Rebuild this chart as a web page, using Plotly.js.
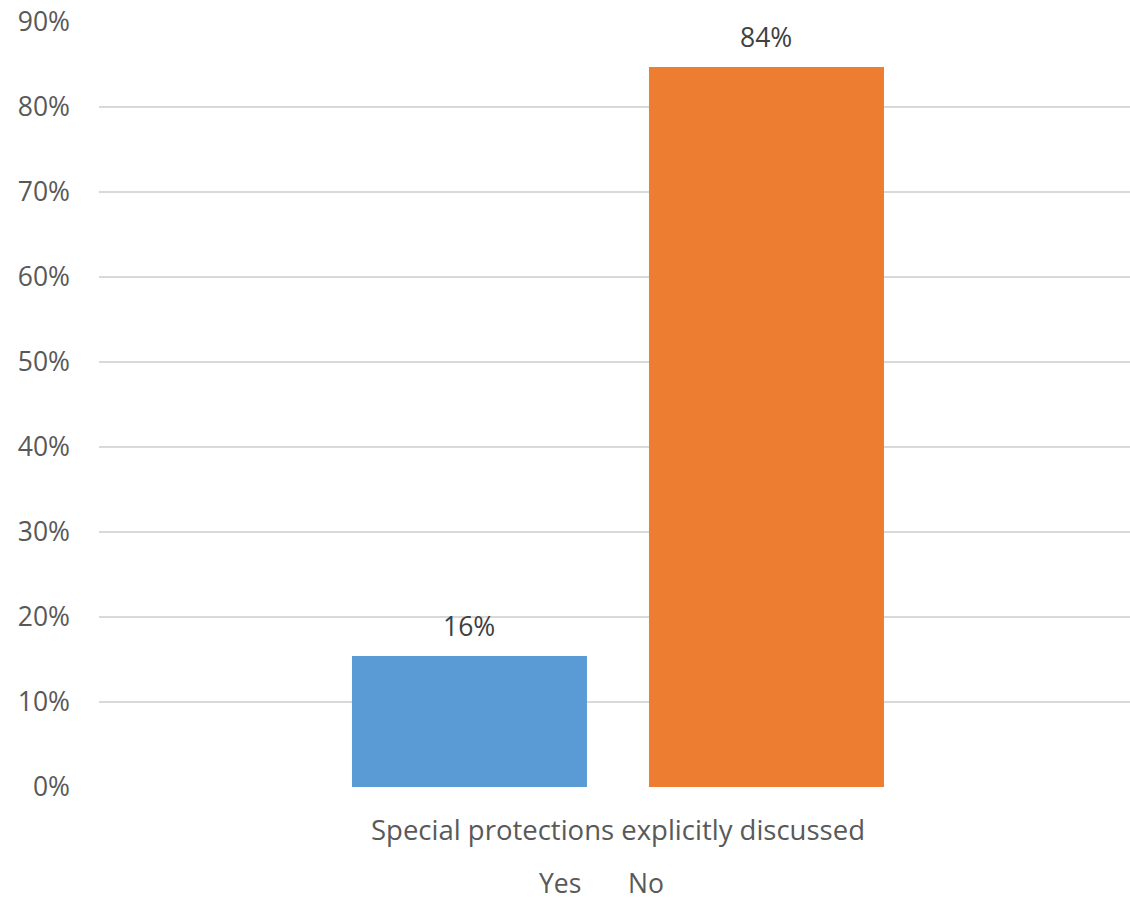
<!DOCTYPE html>
<html>
<head>
<meta charset="utf-8">
<script src="https://cdn.plot.ly/plotly-3.0.1.min.js"></script>
<style>html,body{margin:0;padding:0;background:#fff;}#chart{width:1130px;height:901px;}</style>
</head>
<body>
<div id="chart"></div>
<script>
var category = ["Special protections explicitly discussed"];
var seriesNames = ["Yes", "No"];
var yesValues = [0.154];
var noValues = [0.847];
var yesLabels = ["16%"];
var noLabels = ["84%"];
var yTickVals = [0, 0.1, 0.2, 0.3, 0.4, 0.5, 0.6, 0.7, 0.8, 0.9];
var yTickText = ["0%", "10%", "20%", "30%", "40%", "50%", "60%", "70%", "80%", "90%"];

var FONT = "Open Sans, Liberation Sans, sans-serif";
var W = 1130, H = 901;
var M = {l: 99, r: 0, t: 22, b: 114};
var BARGAP = 0.4277, XRANGE = [-0.5, 0.4933];

var traces = [
  {type: "bar", name: seriesNames[0], x: category, y: yesValues,
   marker: {color: "#5B9BD5"}, hoverinfo: "none"},
  {type: "bar", name: seriesNames[1], x: category, y: noValues,
   marker: {color: "#ED7D31"}, hoverinfo: "none"}
];

// value labels placed above each bar, offset by the group-slot geometry
var plotW = W - M.l - M.r;
var slotPx = plotW / (XRANGE[1] - XRANGE[0]) * (1 - BARGAP) / 2;
var labelSets = [[yesValues, yesLabels, -slotPx / 2], [noValues, noLabels, slotPx / 2]];
var annotations = [];
labelSets.forEach(function (s) {
  s[0].forEach(function (v, i) {
    annotations.push({
      x: category[i], y: v, xref: "x", yref: "y", xshift: s[2], yshift: 10,
      text: s[1][i], showarrow: false, xanchor: "center", yanchor: "bottom",
      font: {family: FONT, size: 26.5, color: "#404040"}
    });
  });
});

// legend text (no swatches in the reference)
var legendY = -(883 - (H - M.b)) / (H - M.t - M.b);
annotations.push({xref: "paper", yref: "paper", x: (560 - M.l) / plotW, y: legendY,
  text: seriesNames[0], showarrow: false, xanchor: "center", yanchor: "middle", borderpad: 0,
  font: {family: FONT, size: 26.5, color: "#595959"}});
annotations.push({xref: "paper", yref: "paper", x: (646 - M.l) / plotW, y: legendY,
  text: seriesNames[1], showarrow: false, xanchor: "center", yanchor: "middle", borderpad: 0,
  font: {family: FONT, size: 26.5, color: "#595959"}});

var layout = {
  width: W, height: H,
  margin: M,
  paper_bgcolor: "#ffffff", plot_bgcolor: "#ffffff",
  showlegend: false,
  barmode: "group",
  bargap: BARGAP,
  bargroupgap: 0.2088,
  font: {family: FONT, size: 26.5, color: "#595959"},
  xaxis: {
    type: "category", range: XRANGE,
    showgrid: false, zeroline: false, showline: false, ticks: "",
    ticklabelstandoff: 24,
    tickfont: {family: FONT, size: 27.5, color: "#595959"},
    fixedrange: true
  },
  yaxis: {
    range: [0, 0.9], tickvals: yTickVals, ticktext: yTickText,
    showgrid: true, gridcolor: "#d9d9d9", gridwidth: 1.5,
    zeroline: false, showline: false, ticks: "",
    ticklabelstandoff: 28,
    tickfont: {family: FONT, size: 26.5, color: "#595959"},
    fixedrange: true
  },
  annotations: annotations
};

Plotly.newPlot("chart", traces, layout, {displayModeBar: false, staticPlot: true});
</script>
</body>
</html>
